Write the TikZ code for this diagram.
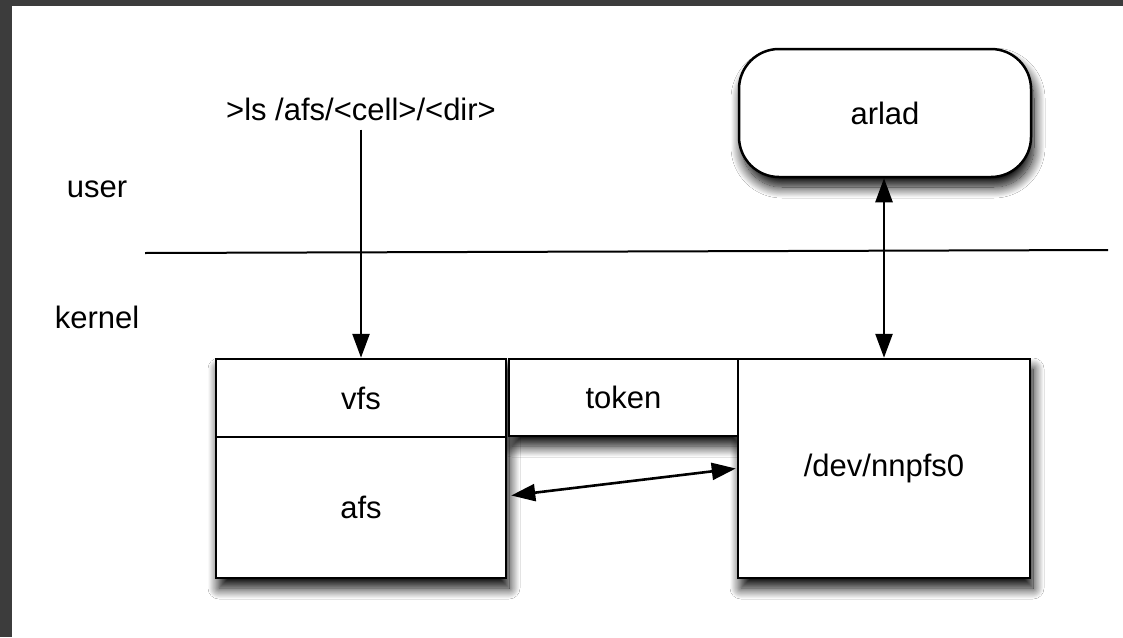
\documentclass[tikz,border=0pt]{standalone}
\usepackage{fontspec}
\setmainfont{Liberation Sans}
\usetikzlibrary{arrows.meta,shadows.blur}
\definecolor{bgdark}{HTML}{3C3C3C}
\tikzset{
  shadowfill/.style={fill=white,
    blur shadow={shadow xshift=3pt, shadow yshift=-10pt, shadow blur radius=11pt,
      shadow blur steps=18, shadow opacity=100}},
  box/.style={draw=black, line width=2.5pt, fill=white, inner sep=0pt},
  lbl/.style={inner sep=0pt, font=\fontsize{31}{37}\selectfont},
  tip/.style={Triangle[length=24pt,width=17pt,fill=black]},
  arr/.style={line width=2.6pt, draw=black, opacity=1, -{Triangle[length=24pt,width=17pt,fill=black]}},
  darr/.style={line width=2.6pt, draw=black, opacity=1, {Triangle[length=24pt,width=17pt,fill=black]}-{Triangle[length=24pt,width=17pt,fill=black]}},
}
\begin{document}
\begin{tikzpicture}[x=1pt,y=-1pt]
\useasboundingbox (0,0) rectangle (1123,637);
\fill[bgdark] (0,0) rectangle (1123,637);
\fill[white] (12,6) rectangle (1123,637);

% shadows
\begin{scope}
\path[shadowfill] (216,359) rectangle (506,578);
\end{scope}
\begin{scope}
\path[shadowfill] (509,359) rectangle (738,436);
\end{scope}
\begin{scope}
\path[shadowfill] (738,359) rectangle (1030,578);
\end{scope}
\begin{scope}
\path[shadowfill, rounded corners=40pt] (739,49) rectangle (1031,177);
\end{scope}

% boxes
\node[box, minimum width=290pt, minimum height=141pt] (afs) at (361,507.5) {};
\node[box, minimum width=290pt, minimum height=78pt] (vfs) at (361,398) {};
\node[box, minimum width=229pt, minimum height=77pt] (token) at (623.5,397.5) {};
\node[box, minimum width=292pt, minimum height=219pt] (nnpfs) at (884,468.5) {};
\node[box, rounded corners=40pt, minimum width=292pt, minimum height=128pt] (arlad) at (885,113) {};

% labels
\node[lbl] (tvfs) at (vfs.center) {vfs};
\node[lbl] (tafs) at (afs.center) {afs};
\node[lbl] (ttoken) at (token.center) {token};
\node[lbl] (tnnpfs) at (nnpfs.center) {/dev/nnpfs0};
\node[lbl] (tarlad) at (arlad.center) {arlad};
\node[lbl, anchor=base] (cmd) at (361,120) {>ls /afs/<cell>/<dir>};
\node[lbl, anchor=base] (user) at (97,197) {user};
\node[lbl, anchor=base] (kernel) at (97,328) {kernel};

% separator line
\coordinate (sepL) at (145,253);
\coordinate (sepR) at (1108,250);
\draw[line width=2pt] (sepL) -- (sepR);

% connectors
\draw[arr, shorten <=9pt] (cmd.south) -- (vfs.north);
\draw[darr] (arlad.south -| nnpfs.north) -- (nnpfs.north);
\draw[darr] ([xshift=4pt,yshift=12pt]afs.east) -- ([xshift=-1pt]nnpfs.west);
\end{tikzpicture}
\end{document}
